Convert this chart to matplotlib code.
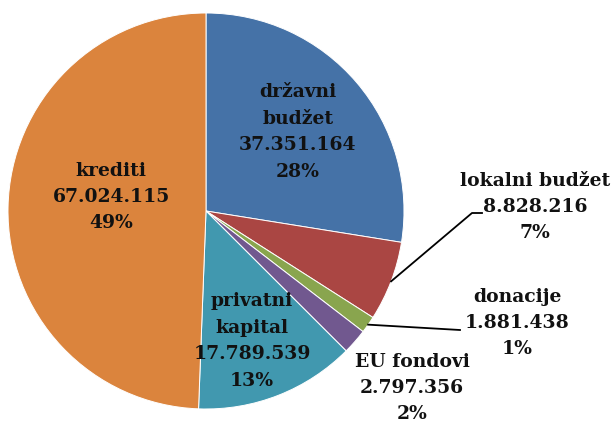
import numpy as np
import matplotlib
matplotlib.use('Agg')
import matplotlib.pyplot as plt

# Data
names = ['državni\nbudžet', 'lokalni budžet', 'donacije', 'EU fondovi', 'privatni\nkapital', 'krediti']
values = [37351164, 8828216, 1881438, 2797356, 17789539, 67024115]
colors = ['#4572A7', '#AA4643', '#89A54E', '#71588F', '#4198AF', '#DB843D']

# label centres in pixel coords (x, y from top)
label_pos = [(298, 132), (535, 207), (517, 323), (412, 388), (252, 341), (111, 197)]
# leader lines: index -> elbow / end point (pixels from top)
leaders = {1: [(472, 213), (482, 213)], 2: [(460, 330)]}

W, H = 616, 423
cx, cy, R = 206, H - 211, 198

fig = plt.figure(figsize=(W / 100, H / 100), dpi=100)
ax = fig.add_axes([0, 0, 1, 1])

wedges, _ = ax.pie(values, colors=colors, startangle=90, counterclock=False,
                   center=(cx, cy), radius=R, frame=True,
                   wedgeprops=dict(edgecolor='white', linewidth=0.7))
ax.set_xlim(0, W)
ax.set_ylim(0, H)
ax.set_aspect('equal')
ax.axis('off')

total = sum(values)

def fmt(v):
    return '{:,}'.format(v).replace(',', '.')

for i, w in enumerate(wedges):
    txt = '%s\n%s\n%d%%' % (names[i], fmt(values[i]), round(values[i] / total * 100))
    x, y = label_pos[i]
    ax.text(x, H - y, txt, ha='center', va='center', fontsize=13.5,
            fontweight='bold', family='DejaVu Serif', color='#111111',
            linespacing=1.6)
    if i in leaders:
        ang = np.deg2rad((w.theta1 + w.theta2) / 2)
        pts = [(cx + R * np.cos(ang), cy + R * np.sin(ang))]
        pts += [(px, H - py) for px, py in leaders[i]]
        xs, ys = zip(*pts)
        ax.plot(xs, ys, color='black', lw=1.3)

fig.savefig('out.png', dpi=100)
